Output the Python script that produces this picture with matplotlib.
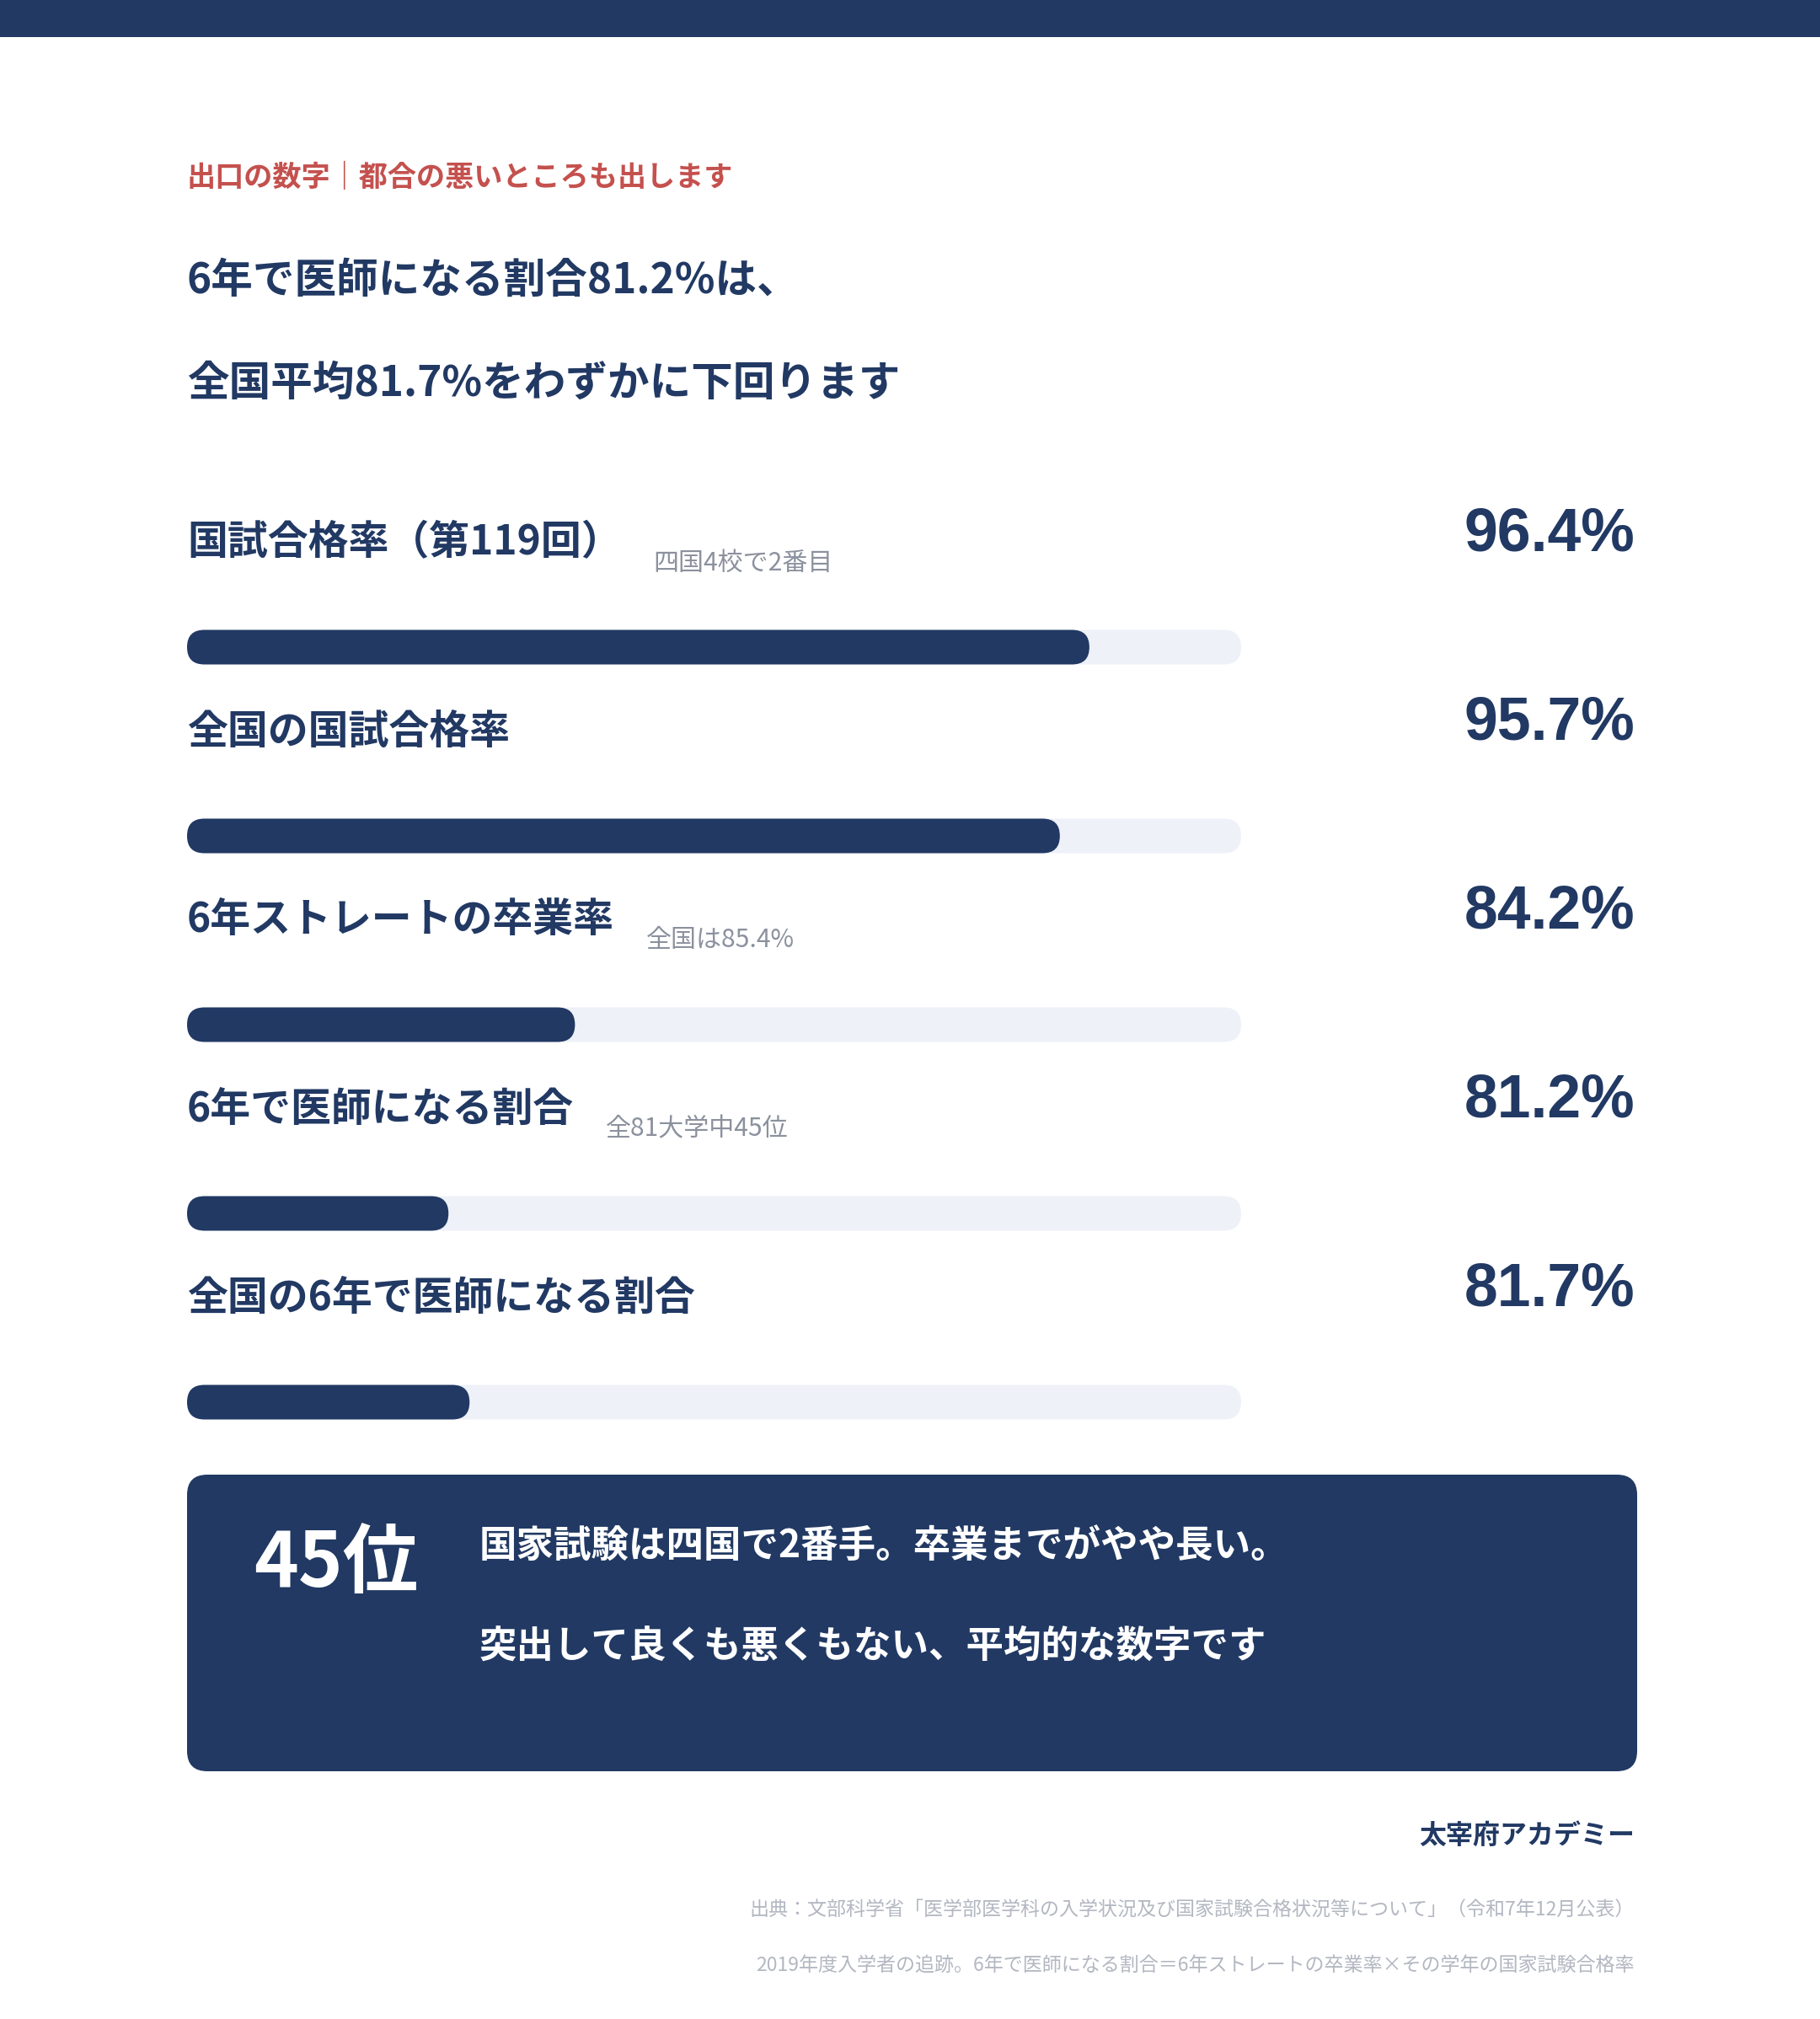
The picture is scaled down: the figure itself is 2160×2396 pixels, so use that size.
import matplotlib
matplotlib.use("Agg")
import matplotlib.pyplot as plt
from matplotlib.patches import Rectangle, FancyBboxPatch

plt.rcParams['font.family'] = ['Noto Sans CJK JP', 'DejaVu Sans']

# ---- data ----
kicker = "出口の数字｜都合の悪いところも出します"
title_lines = ["6年で医師になる割合81.2%は、", "全国平均81.7%をわずかに下回ります"]
labels = ["国試合格率（第119回）", "全国の国試合格率", "6年ストレートの卒業率",
          "6年で医師になる割合", "全国の6年で医師になる割合"]
values = [96.4, 95.7, 84.2, 81.2, 81.7]
notes = ["四国4校で2番目", "", "全国は85.4%", "全81大学中45位", ""]
axis_min, axis_max = 75, 100
rank_text = "45位"
box_lines = ["国家試験は四国で2番手。卒業までがやや長い。",
             "突出して良くも悪くもない、平均的な数字です"]
brand = "太宰府アカデミー"
source_lines = ["出典：文部科学省「医学部医学科の入学状況及び国家試験合格状況等について」（令和7年12月公表）",
                "2019年度入学者の追跡。6年で医師になる割合＝6年ストレートの卒業率×その学年の国家試験合格率"]

NAVY = "#213963"
TRACK = "#EEF1F8"
RED = "#C4514E"
GRAY = "#8B919D"
LGRAY = "#B3B7C1"

W, H = 2160, 2396
DPI = 100
fig = plt.figure(figsize=(W / DPI, H / DPI), dpi=DPI, facecolor="white")
ax0 = fig.add_axes([0, 0, 1, 1])
ax0.set_xlim(0, W)
ax0.set_ylim(H, 0)
ax0.axis("off")

# top banner
ax0.add_patch(Rectangle((0, 0), W, 44, facecolor=NAVY, edgecolor="none"))

LEFT = 222
RIGHT = 1940

ax0.text(LEFT, 210, kicker, fontsize=24.6, fontweight="bold", color=RED, va="center", ha="left")
for i, t in enumerate(title_lines):
    ax0.text(LEFT, 333 + 122 * i, t, fontsize=35.7, fontweight="bold", color=NAVY, va="center", ha="left")

ROW0 = 644
STEP = 224
label_objs = []
for i, (lab, v) in enumerate(zip(labels, values)):
    y = ROW0 + STEP * i
    tobj = ax0.text(LEFT, y, lab, fontsize=34.5, fontweight="bold", color=NAVY, va="center", ha="left")
    label_objs.append(tobj)
    ax0.text(RIGHT, y - 10, f"{v:.1f}%", fontsize=51.5, fontweight="bold", color=NAVY,
             va="center", ha="right", family=["Liberation Sans", "DejaVu Sans"])

fig.canvas.draw()
renderer = fig.canvas.get_renderer()
for i, (tobj, note) in enumerate(zip(label_objs, notes)):
    if note:
        bb = tobj.get_window_extent(renderer)
        ax0.text(bb.x1 + 38, ROW0 + STEP * i + 24, note, fontsize=21.6, color=GRAY, va="center", ha="left")

# bars: axis with value scale (x in %, y in pixels)
trk_l, trk_r = 222, 1473
axb = fig.add_axes([trk_l / W, 0, (trk_r - trk_l) / W, 1])
axb.set_xlim(axis_min, axis_max)
axb.set_ylim(H, 0)
axb.axis("off")
axb.patch.set_alpha(0)
BAR_H = 41
x_per_px = (axis_max - axis_min) / (trk_r - trk_l)
rs = (BAR_H / 2) * x_per_px
aspect = 1.0 / x_per_px
for i, v in enumerate(values):
    yc = ROW0 + 124 + STEP * i
    for x1, col in ((axis_max, TRACK), (v, NAVY)):
        axb.add_patch(FancyBboxPatch((axis_min, yc - BAR_H / 2), x1 - axis_min, BAR_H,
                                     boxstyle=f"round,pad=0,rounding_size={rs}",
                                     mutation_aspect=aspect,
                                     facecolor=col, edgecolor="none", clip_on=False))

# summary box
ax0.add_patch(FancyBboxPatch((222, 1750), 1943 - 222, 2102 - 1750,
                             boxstyle="round,pad=0,rounding_size=24",
                             facecolor=NAVY, edgecolor="none"))
ax0.text(301, 1856, rank_text, fontsize=64.5, fontweight="bold", color="white", va="center", ha="left")
for i, t in enumerate(box_lines):
    ax0.text(569, 1836 + 118 * i, t, fontsize=32, fontweight="bold", color="white", va="center", ha="left")

ax0.text(RIGHT, 2179, brand, fontsize=23, fontweight="bold", color=NAVY, va="center", ha="right")
for i, t in enumerate(source_lines):
    ax0.text(RIGHT, 2266 + 66 * i, t, fontsize=16.6, color=LGRAY, va="center", ha="right")

fig.savefig("out.png", dpi=DPI, facecolor="white")
